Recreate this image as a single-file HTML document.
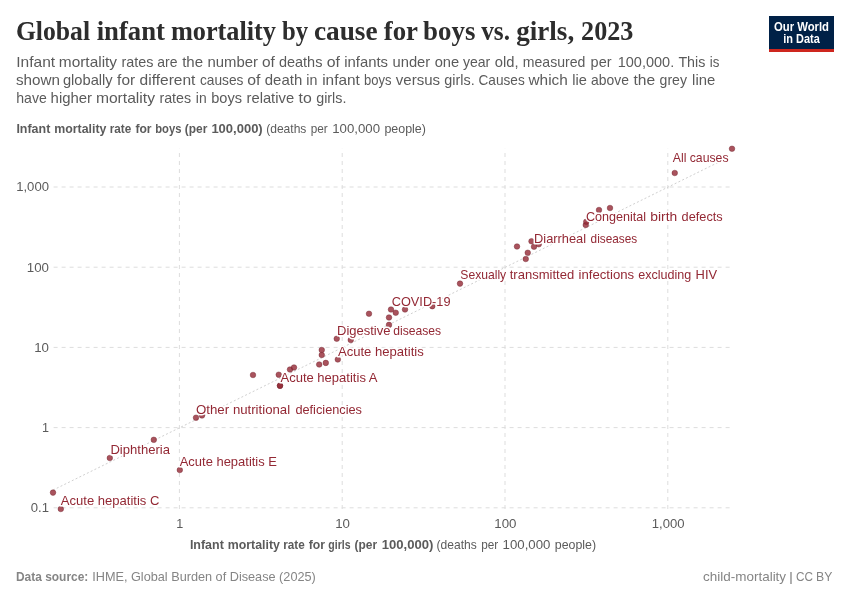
<!DOCTYPE html>
<html lang="en"><head><meta charset="utf-8"><title>Global infant mortality by cause for boys vs. girls, 2023</title>
<style>html,body{margin:0;padding:0;background:#fff;}svg{display:block;font-family:"Liberation Sans",sans-serif;}</style></head><body>
<svg width="850" height="600" viewBox="0 0 850 600">
<rect width="850" height="600" fill="#fff"/>
<text y="40" font-size="27" fill="#2d2d2d" font-weight="bold" font-family='"Liberation Serif", serif'><tspan x="15.9" textLength="74.2" lengthAdjust="spacingAndGlyphs">Global</tspan> <tspan x="96.7" textLength="68.3" lengthAdjust="spacingAndGlyphs">infant</tspan> <tspan x="170.9" textLength="105.1" lengthAdjust="spacingAndGlyphs">mortality</tspan> <tspan x="281.9" textLength="26.1" lengthAdjust="spacingAndGlyphs">by</tspan> <tspan x="313.9" textLength="63.7" lengthAdjust="spacingAndGlyphs">cause</tspan> <tspan x="383.7" textLength="33.8" lengthAdjust="spacingAndGlyphs">for</tspan> <tspan x="423.1" textLength="52.3" lengthAdjust="spacingAndGlyphs">boys</tspan> <tspan x="481.2" textLength="28.8" lengthAdjust="spacingAndGlyphs">vs.</tspan> <tspan x="516.2" textLength="58.0" lengthAdjust="spacingAndGlyphs">girls,</tspan> <tspan x="581.1" textLength="52.3" lengthAdjust="spacingAndGlyphs">2023</tspan></text>
<text y="66.6" font-size="15" fill="#5b5b5b"><tspan x="16.3" textLength="38.8" lengthAdjust="spacingAndGlyphs">Infant</tspan> <tspan x="58.8" textLength="58.3" lengthAdjust="spacingAndGlyphs">mortality</tspan> <tspan x="121.5" textLength="32.0" lengthAdjust="spacingAndGlyphs">rates</tspan> <tspan x="157.3" textLength="20.2" lengthAdjust="spacingAndGlyphs">are</tspan> <tspan x="182.2" textLength="20.9" lengthAdjust="spacingAndGlyphs">the</tspan> <tspan x="207.5" textLength="50.5" lengthAdjust="spacingAndGlyphs">number</tspan> <tspan x="262.0" textLength="12.9" lengthAdjust="spacingAndGlyphs">of</tspan> <tspan x="278.9" textLength="43.5" lengthAdjust="spacingAndGlyphs">deaths</tspan> <tspan x="326.8" textLength="13.2" lengthAdjust="spacingAndGlyphs">of</tspan> <tspan x="344.2" textLength="43.8" lengthAdjust="spacingAndGlyphs">infants</tspan> <tspan x="392.5" textLength="37.7" lengthAdjust="spacingAndGlyphs">under</tspan> <tspan x="434.7" textLength="24.5" lengthAdjust="spacingAndGlyphs">one</tspan> <tspan x="462.9" textLength="27.4" lengthAdjust="spacingAndGlyphs">year</tspan> <tspan x="494.7" textLength="23.8" lengthAdjust="spacingAndGlyphs">old,</tspan> <tspan x="522.8" textLength="62.6" lengthAdjust="spacingAndGlyphs">measured</tspan> <tspan x="590.6" textLength="20.9" lengthAdjust="spacingAndGlyphs">per</tspan> <tspan x="617.7" textLength="56.5" lengthAdjust="spacingAndGlyphs">100,000.</tspan> <tspan x="678.4" textLength="26.9" lengthAdjust="spacingAndGlyphs">This</tspan> <tspan x="709.8" textLength="9.6" lengthAdjust="spacingAndGlyphs">is</tspan></text>
<text y="84.6" font-size="15" fill="#5b5b5b"><tspan x="16.0" textLength="44.0" lengthAdjust="spacingAndGlyphs">shown</tspan> <tspan x="62.9" textLength="49.8" lengthAdjust="spacingAndGlyphs">globally</tspan> <tspan x="117.1" textLength="18.0" lengthAdjust="spacingAndGlyphs">for</tspan> <tspan x="139.6" textLength="55.8" lengthAdjust="spacingAndGlyphs">different</tspan> <tspan x="199.9" textLength="43.5" lengthAdjust="spacingAndGlyphs">causes</tspan> <tspan x="247.2" textLength="13.2" lengthAdjust="spacingAndGlyphs">of</tspan> <tspan x="264.8" textLength="37.4" lengthAdjust="spacingAndGlyphs">death</tspan> <tspan x="306.3" textLength="11.1" lengthAdjust="spacingAndGlyphs">in</tspan> <tspan x="322.2" textLength="37.6" lengthAdjust="spacingAndGlyphs">infant</tspan> <tspan x="364.1" textLength="27.5" lengthAdjust="spacingAndGlyphs">boys</tspan> <tspan x="395.8" textLength="44.3" lengthAdjust="spacingAndGlyphs">versus</tspan> <tspan x="444.3" textLength="30.4" lengthAdjust="spacingAndGlyphs">girls.</tspan> <tspan x="478.5" textLength="46.2" lengthAdjust="spacingAndGlyphs">Causes</tspan> <tspan x="528.5" textLength="39.3" lengthAdjust="spacingAndGlyphs">which</tspan> <tspan x="572.2" textLength="14.6" lengthAdjust="spacingAndGlyphs">lie</tspan> <tspan x="591.0" textLength="37.9" lengthAdjust="spacingAndGlyphs">above</tspan> <tspan x="633.5" textLength="21.7" lengthAdjust="spacingAndGlyphs">the</tspan> <tspan x="659.6" textLength="27.4" lengthAdjust="spacingAndGlyphs">grey</tspan> <tspan x="692.1" textLength="23.1" lengthAdjust="spacingAndGlyphs">line</tspan></text>
<text y="102.6" font-size="15" fill="#5b5b5b"><tspan x="16.3" textLength="30.5" lengthAdjust="spacingAndGlyphs">have</tspan> <tspan x="50.6" textLength="41.5" lengthAdjust="spacingAndGlyphs">higher</tspan> <tspan x="95.9" textLength="59.1" lengthAdjust="spacingAndGlyphs">mortality</tspan> <tspan x="159.4" textLength="31.7" lengthAdjust="spacingAndGlyphs">rates</tspan> <tspan x="195.8" textLength="10.8" lengthAdjust="spacingAndGlyphs">in</tspan> <tspan x="211.2" textLength="30.8" lengthAdjust="spacingAndGlyphs">boys</tspan> <tspan x="246.5" textLength="47.6" lengthAdjust="spacingAndGlyphs">relative</tspan> <tspan x="298.6" textLength="13.2" lengthAdjust="spacingAndGlyphs">to</tspan> <tspan x="316.2" textLength="30.2" lengthAdjust="spacingAndGlyphs">girls.</tspan></text>
<g><rect x="769" y="16" width="65" height="36" fill="#002147"/><rect x="769" y="49" width="65" height="3" fill="#ce261e"/>
<text x="801.5" y="31" font-size="12" fill="#fff" font-weight="bold" text-anchor="middle" textLength="55" lengthAdjust="spacingAndGlyphs">Our World</text>
<text x="801.5" y="43" font-size="12" fill="#fff" font-weight="bold" text-anchor="middle" textLength="36.5" lengthAdjust="spacingAndGlyphs">in Data</text>
</g>
<text y="132.8" font-size="12.4" fill="#5b5b5b" font-weight="bold"><tspan x="16.4" textLength="33.9" lengthAdjust="spacingAndGlyphs">Infant</tspan> <tspan x="54.2" textLength="52.2" lengthAdjust="spacingAndGlyphs">mortality</tspan> <tspan x="109.8" textLength="21.5" lengthAdjust="spacingAndGlyphs">rate</tspan> <tspan x="135.4" textLength="16.2" lengthAdjust="spacingAndGlyphs">for</tspan> <tspan x="155.2" textLength="26.2" lengthAdjust="spacingAndGlyphs">boys</tspan> <tspan x="184.8" textLength="22.6" lengthAdjust="spacingAndGlyphs">(per</tspan> <tspan x="211.4" textLength="51.3" lengthAdjust="spacingAndGlyphs">100,000)</tspan></text>
<text y="132.8" font-size="12.4" fill="#5b5b5b"><tspan x="266.2" textLength="40.2" lengthAdjust="spacingAndGlyphs">(deaths</tspan> <tspan x="310.7" textLength="17.0" lengthAdjust="spacingAndGlyphs">per</tspan> <tspan x="332.2" textLength="47.8" lengthAdjust="spacingAndGlyphs">100,000</tspan> <tspan x="384.4" textLength="41.5" lengthAdjust="spacingAndGlyphs">people)</tspan></text>
<text y="548.5" font-size="12.4" fill="#5b5b5b" font-weight="bold"><tspan x="189.9" textLength="33.9" lengthAdjust="spacingAndGlyphs">Infant</tspan> <tspan x="227.7" textLength="52.2" lengthAdjust="spacingAndGlyphs">mortality</tspan> <tspan x="283.3" textLength="21.5" lengthAdjust="spacingAndGlyphs">rate</tspan> <tspan x="308.8" textLength="16.3" lengthAdjust="spacingAndGlyphs">for</tspan> <tspan x="328.3" textLength="22.2" lengthAdjust="spacingAndGlyphs">girls</tspan> <tspan x="354.5" textLength="22.6" lengthAdjust="spacingAndGlyphs">(per</tspan> <tspan x="381.7" textLength="51.7" lengthAdjust="spacingAndGlyphs">100,000)</tspan></text>
<text y="548.5" font-size="12.4" fill="#5b5b5b"><tspan x="436.6" textLength="40.2" lengthAdjust="spacingAndGlyphs">(deaths</tspan> <tspan x="481.2" textLength="17.0" lengthAdjust="spacingAndGlyphs">per</tspan> <tspan x="502.6" textLength="47.8" lengthAdjust="spacingAndGlyphs">100,000</tspan> <tspan x="554.8" textLength="41.3" lengthAdjust="spacingAndGlyphs">people)</tspan></text>
<g stroke="#dddddd" stroke-width="1" stroke-dasharray="4,4" fill="none">
<line x1="53.6" y1="187.0" x2="732" y2="187.0"/>
<line x1="53.6" y1="267.2" x2="732" y2="267.2"/>
<line x1="53.6" y1="347.4" x2="732" y2="347.4"/>
<line x1="53.6" y1="427.6" x2="732" y2="427.6"/>
<line x1="53.6" y1="507.8" x2="732" y2="507.8"/>
<line x1="179.4" y1="509" x2="179.4" y2="148.8"/>
<line x1="342.2" y1="509" x2="342.2" y2="148.8"/>
<line x1="505.0" y1="509" x2="505.0" y2="148.8"/>
<line x1="667.8" y1="509" x2="667.8" y2="148.8"/>
</g>
<text x="16.2" y="191.3" font-size="12" fill="#5b5b5b" textLength="32.8" lengthAdjust="spacingAndGlyphs">1,000</text>
<text x="26.8" y="271.5" font-size="12" fill="#5b5b5b" textLength="22.2" lengthAdjust="spacingAndGlyphs">100</text>
<text x="34.2" y="351.7" font-size="12" fill="#5b5b5b" textLength="14.8" lengthAdjust="spacingAndGlyphs">10</text>
<text x="42" y="431.9" font-size="12" fill="#5b5b5b" textLength="7" lengthAdjust="spacingAndGlyphs">1</text>
<text x="30.8" y="512.1" font-size="12" fill="#5b5b5b" textLength="18.2" lengthAdjust="spacingAndGlyphs">0.1</text>
<text x="176.3" y="527.5" font-size="12" fill="#5b5b5b" textLength="7" lengthAdjust="spacingAndGlyphs">1</text>
<text x="335.2" y="527.5" font-size="12" fill="#5b5b5b" textLength="14.8" lengthAdjust="spacingAndGlyphs">10</text>
<text x="494.3" y="527.5" font-size="12" fill="#5b5b5b" textLength="22.2" lengthAdjust="spacingAndGlyphs">100</text>
<text x="651.8" y="527.5" font-size="12" fill="#5b5b5b" textLength="32.8" lengthAdjust="spacingAndGlyphs">1,000</text>
<line x1="53" y1="490.1" x2="726" y2="158.56" stroke="#d0d0d0" stroke-width="1" stroke-dasharray="2,2.2"/>
<g fill="#932834" fill-opacity="0.8" stroke="#6e1e27" stroke-opacity="0.8" stroke-width="0.5">
<circle cx="53" cy="492.6" r="2.8"/>
<circle cx="60.8" cy="509" r="2.8"/>
<circle cx="109.8" cy="458" r="2.8"/>
<circle cx="153.8" cy="439.8" r="2.8"/>
<circle cx="179.8" cy="470" r="2.8"/>
<circle cx="196" cy="417.7" r="2.8"/>
<circle cx="202" cy="415.5" r="2.8"/>
<circle cx="253" cy="375" r="2.8"/>
<circle cx="278.75" cy="374.7" r="2.8"/>
<circle cx="280" cy="385.7" r="2.8"/>
<circle cx="280" cy="385.7" r="2.8"/>
<circle cx="290" cy="369.5" r="2.8"/>
<circle cx="294" cy="367.5" r="2.8"/>
<circle cx="319.2" cy="364.5" r="2.8"/>
<circle cx="325.8" cy="362.9" r="2.8"/>
<circle cx="337.8" cy="359.5" r="2.8"/>
<circle cx="321.75" cy="350" r="2.8"/>
<circle cx="321.75" cy="355" r="2.8"/>
<circle cx="336.75" cy="338.75" r="2.8"/>
<circle cx="350.75" cy="340" r="2.8"/>
<circle cx="369" cy="313.75" r="2.8"/>
<circle cx="389" cy="324.9" r="2.8"/>
<circle cx="389" cy="317.5" r="2.8"/>
<circle cx="391" cy="309.5" r="2.8"/>
<circle cx="395.75" cy="312.75" r="2.8"/>
<circle cx="405" cy="309.5" r="2.8"/>
<circle cx="432.3" cy="306.2" r="2.8"/>
<circle cx="460" cy="283.6" r="2.8"/>
<circle cx="525.75" cy="259" r="2.8"/>
<circle cx="527.75" cy="252.75" r="2.8"/>
<circle cx="517" cy="246.5" r="2.8"/>
<circle cx="534" cy="246.75" r="2.8"/>
<circle cx="538.75" cy="244.25" r="2.8"/>
<circle cx="531.5" cy="241.25" r="2.8"/>
<circle cx="585.75" cy="225" r="2.8"/>
<circle cx="586.25" cy="221.75" r="2.8"/>
<circle cx="599" cy="210" r="2.8"/>
<circle cx="610" cy="208" r="2.8"/>
<circle cx="674.75" cy="173" r="2.8"/>
<circle cx="732" cy="148.75" r="2.8"/>
</g>
<g font-size="12.8" fill="#932834" stroke="#fff" stroke-width="3" stroke-linejoin="round" paint-order="stroke fill">
<text x="672.75" y="162" textLength="55.75" lengthAdjust="spacingAndGlyphs">All causes</text>
<text y="220.6"><tspan x="585.9" textLength="60.2" lengthAdjust="spacingAndGlyphs">Congenital</tspan> <tspan x="650.3" textLength="26.9" lengthAdjust="spacingAndGlyphs">birth</tspan> <tspan x="681.6" textLength="41.1" lengthAdjust="spacingAndGlyphs">defects</tspan></text>
<text y="242.5"><tspan x="534.1" textLength="52.0" lengthAdjust="spacingAndGlyphs">Diarrheal</tspan> <tspan x="590.6" textLength="46.6" lengthAdjust="spacingAndGlyphs">diseases</tspan></text>
<text y="278.7"><tspan x="460.3" textLength="45.9" lengthAdjust="spacingAndGlyphs">Sexually</tspan> <tspan x="509.7" textLength="64.5" lengthAdjust="spacingAndGlyphs">transmitted</tspan> <tspan x="578.5" textLength="55.6" lengthAdjust="spacingAndGlyphs">infections</tspan> <tspan x="638.2" textLength="53.1" lengthAdjust="spacingAndGlyphs">excluding</tspan> <tspan x="695.6" textLength="21.5" lengthAdjust="spacingAndGlyphs">HIV</tspan></text>
<text x="391.75" y="305.75" textLength="58.75" lengthAdjust="spacingAndGlyphs">COVID-19</text>
<text y="334.5"><tspan x="337.0" textLength="53.5" lengthAdjust="spacingAndGlyphs">Digestive</tspan> <tspan x="393.3" textLength="47.9" lengthAdjust="spacingAndGlyphs">diseases</tspan></text>
<text x="337.95" y="355.5" textLength="85.8" lengthAdjust="spacingAndGlyphs">Acute hepatitis</text>
<text x="280.45" y="381.6" textLength="97.05" lengthAdjust="spacingAndGlyphs">Acute hepatitis A</text>
<text y="413.75"><tspan x="195.9" textLength="33.2" lengthAdjust="spacingAndGlyphs">Other</tspan> <tspan x="232.9" textLength="57.2" lengthAdjust="spacingAndGlyphs">nutritional</tspan> <tspan x="295.4" textLength="66.6" lengthAdjust="spacingAndGlyphs">deficiencies</tspan></text>
<text x="110.4" y="454" textLength="59.6" lengthAdjust="spacingAndGlyphs">Diphtheria</text>
<text x="179.7" y="465.75" textLength="97.3" lengthAdjust="spacingAndGlyphs">Acute hepatitis E</text>
<text x="60.8" y="504.6" textLength="98.6" lengthAdjust="spacingAndGlyphs">Acute hepatitis C</text>
</g>
<text x="16.0" y="580.6" font-size="13" fill="#858585" font-weight="bold" textLength="72.3" lengthAdjust="spacingAndGlyphs">Data source:</text>
<text x="92.2" y="580.6" font-size="13" fill="#858585" textLength="223.6" lengthAdjust="spacingAndGlyphs">IHME, Global Burden of Disease (2025)</text>
<text y="580.6" font-size="13" fill="#858585"><tspan x="703.1" textLength="83.0" lengthAdjust="spacingAndGlyphs">child-mortality</tspan> <tspan x="789.1" textLength="4.0" lengthAdjust="spacingAndGlyphs">|</tspan> <tspan x="795.9" textLength="17.0" lengthAdjust="spacingAndGlyphs">CC</tspan> <tspan x="816.0" textLength="16.3" lengthAdjust="spacingAndGlyphs">BY</tspan></text>
</svg></body></html>
